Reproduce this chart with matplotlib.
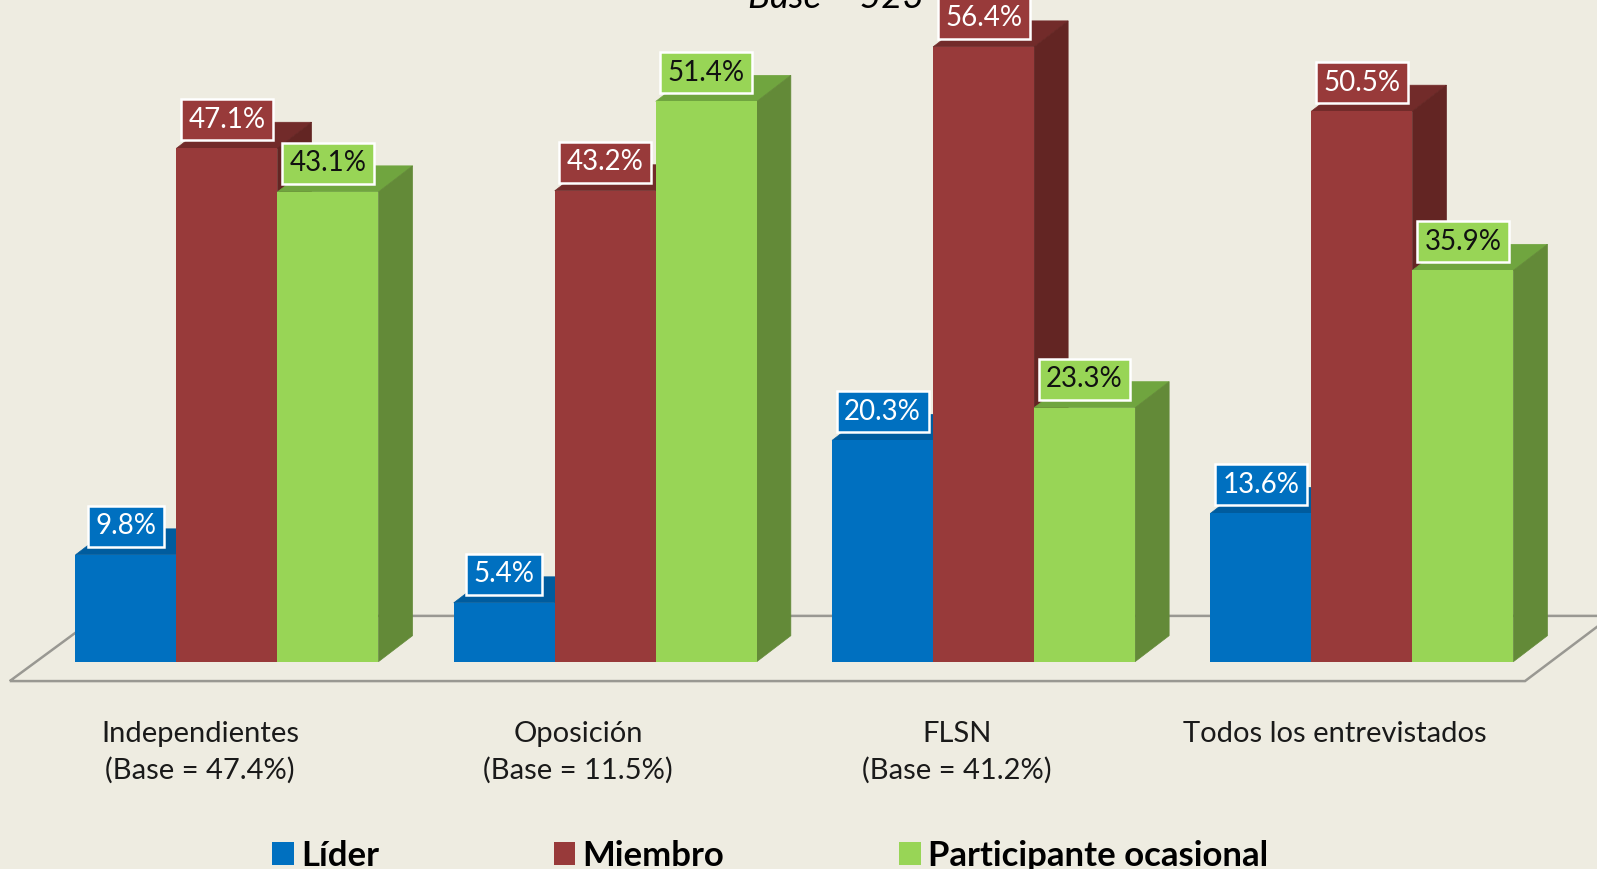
import matplotlib
matplotlib.use('Agg')
import matplotlib.pyplot as plt
from matplotlib.patches import Polygon, Patch

categories = ['Independientes\n(Base = 47.4%)', 'Oposición\n(Base = 11.5%)',
              'FLSN\n(Base = 41.2%)', 'Todos los entrevistados']
series_names = ['Líder', 'Miembro', 'Participante ocasional']
lider = [9.8, 5.4, 20.3, 13.6]
miembro = [47.1, 43.2, 56.4, 50.5]
participante = [43.1, 51.4, 23.3, 35.9]

front_colors = ['#0070C0', '#983A3A', '#98D556']
top_colors = ['#005C9E', '#722B2A', '#70A53F']
side_colors = ['#005490', '#632523', '#638A38']
text_colors = ['white', 'white', '#111111']
background = '#EEECE1'

plt.rcParams['font.family'] = ['Lato', 'DejaVu Sans']

fig = plt.figure(figsize=(15.97, 8.69), dpi=100, facecolor=background)
ax = fig.add_axes([0, 0, 1, 1])
ax.set_xlim(-0.6, 3.6215)
ax.set_ylim(-19.02, 60.7)
ax.axis('off')

bar_w = 0.267
depth_x = 0.09
depth_y = 2.385

# floor of the 3D plot
floor_x = [-0.5742, 3.4312, 3.66, -0.34, -0.5742]
floor_y = [-1.78, -1.78, 4.2, 4.2, -1.78]
ax.add_patch(Polygon(list(zip(floor_x, floor_y)), closed=True, fill=False,
                     edgecolor='#999892', linewidth=1.8, zorder=1))

all_series = [lider, miembro, participante]
z = 2
for g in range(len(categories)):
    for s, values in enumerate(all_series):
        left = g - 1.5 * bar_w + s * bar_w
        right = left + bar_w
        v = values[g]
        top = [(left, v), (right, v), (right + depth_x, v + depth_y), (left + depth_x, v + depth_y)]
        side = [(right, 0), (right + depth_x, depth_y), (right + depth_x, v + depth_y), (right, v)]
        ax.add_patch(Polygon(top, closed=True, facecolor=top_colors[s], edgecolor=top_colors[s],
                             linewidth=0.5, zorder=z))
        ax.add_patch(Polygon(side, closed=True, facecolor=side_colors[s], edgecolor=side_colors[s],
                             linewidth=0.5, zorder=z))
        ax.bar(left, v, width=bar_w, align='edge', color=front_colors[s], linewidth=0, zorder=z + 0.5)
        z += 1

# value labels go on top of everything
for g in range(len(categories)):
    for s, values in enumerate(all_series):
        cx = g - 1.5 * bar_w + s * bar_w + bar_w / 2
        ax.annotate(f'{values[g]}%', (cx, values[g]), xytext=(0, 20.5), textcoords='offset points',
                    ha='center', va='center', fontsize=20, color=text_colors[s], zorder=100,
                    bbox=dict(boxstyle='square,pad=0.27', facecolor=front_colors[s],
                              edgecolor='white', linewidth=1.8))

for g, name in enumerate(categories):
    ax.annotate(name, (g - 0.0714, 0), xytext=(0, -43), textcoords='offset points',
                ha='center', va='top', fontsize=21, color='#1a1a1a', linespacing=1.45)

ax.text(0.5235, 1.003, 'Base = 523', transform=ax.transAxes, ha='center', va='center',
        fontsize=26.5, style='italic', color='black', clip_on=True)

handles = [Patch(facecolor=c, edgecolor='none') for c in front_colors]
leg = fig.legend(handles, series_names, ncol=3, loc='lower left', bbox_to_anchor=(0.1705, -0.003),
                 frameon=False, fontsize=25, handlelength=0.62, handleheight=0.62,
                 handletextpad=0.21, columnspacing=5.03, borderpad=0, borderaxespad=0)
for t in leg.get_texts():
    t.set_fontweight('bold')

fig.savefig('out.png', dpi=100, facecolor=background)
